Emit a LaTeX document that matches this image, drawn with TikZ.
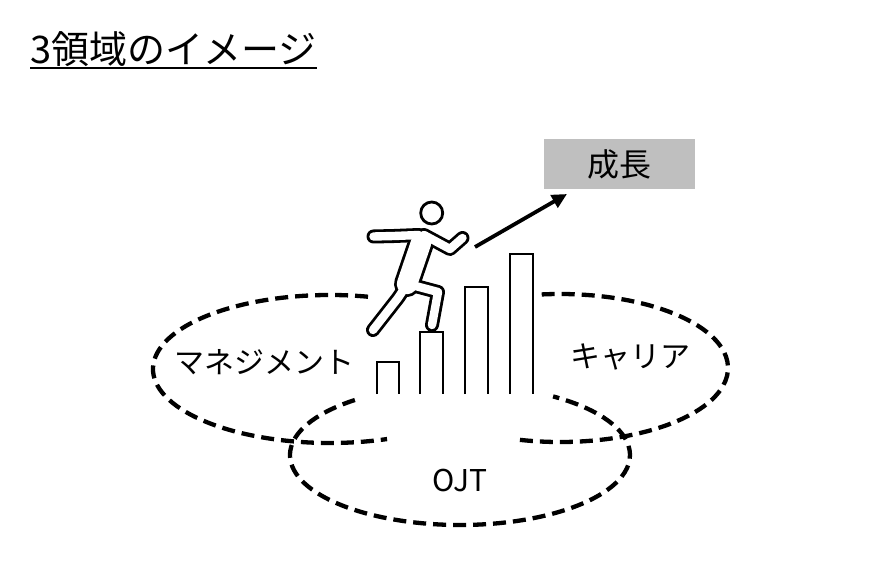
\documentclass[tikz,border=0pt]{standalone}
\usepackage{fontspec}
\setmainfont{Noto Sans CJK JP}
\usetikzlibrary{arrows.meta}
\definecolor{boxgray}{HTML}{BFBFBF}

\begin{document}
\begin{tikzpicture}[x=1pt,y=1pt]
      \useasboundingbox (0,0) rectangle (880,560);

      \begin{scope}[every node/.style={inner sep=0pt, font=\fontsize{30}{32}\selectfont}]
        \node[anchor=base west, font=\fontsize{38}{40}\selectfont] (title) at (30,496) {3領域のイメージ};
        \node[fill=boxgray, minimum width=151pt, minimum height=50pt,
              font=\fontsize{32}{34}\selectfont] (growth) at (619.5,396) {成長};
        \node (mgmt)   at (264,198) {マネジメント};
        \node (career) at (630,203) {キャリア};
        \node (ojt)    at (460,79)  {OJT};
      \end{scope}

      \draw[line width=2pt] ([yshift=-4pt]title.base west) -- ([yshift=-4pt]title.base east);

      \begin{scope}[line width=4.3pt, dash pattern=on 13pt off 7pt]
        \draw (330,191) ++(77.6:177 and 74) arc[start angle=77.6, end angle=288.8, x radius=177, y radius=74];
        \draw (560,192) ++(-103.8:168 and 74) arc[start angle=-103.8, end angle=96.8, x radius=168, y radius=74];
        \draw (460,105) ++(128.2:170 and 70) arc[start angle=128.2, end angle=416.8, x radius=170, y radius=70];
      \end{scope}

      \begin{scope}[line cap=round, line join=round]
        \draw[line width=26pt] (421,317) -- (407,276);
        \draw[line width=14pt] (419,325) -- (394,324) -- (373.5,323.5);
        \draw[line width=14pt] (424,325) -- (450,311) -- (462.5,322);
        \draw[line width=14pt] (406,274) -- (398,262) -- (373,230);
        \draw[line width=14pt] (408,276) -- (438,268) -- (432,235);

        \draw[white, line width=20.4pt] (421,317) -- (407,276);
        \draw[white, line width=8.4pt] (419,325) -- (394,324) -- (373.5,323.5);
        \draw[white, line width=8.4pt] (424,325) -- (450,311) -- (462.5,322);
        \draw[white, line width=8.4pt] (406,274) -- (398,262) -- (373,230);
        \draw[white, line width=8.4pt] (408,276) -- (438,268) -- (432,235);

        \draw[line width=2.8pt] (431.7,347) circle[radius=11];
      \end{scope}

      \begin{scope}[line width=2.4pt]
        \draw (377,166) |- (399,198) -- (399,166);
        \draw (420,166) |- (443,228) -- (443,166);
        \draw (465,166) |- (488,273) -- (488,166);
        \draw (510,166) |- (533,306) -- (533,166);
      \end{scope}

      \coordinate (run)  at (475,313);
      \coordinate (goal) at (567,366);
      \draw[line width=3.8pt, -{Triangle[length=15pt, width=14pt]}] (run) -- (goal);

    \end{tikzpicture}
\end{document}
